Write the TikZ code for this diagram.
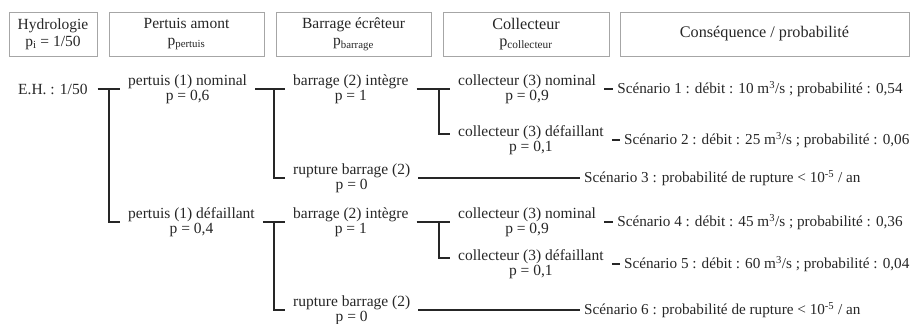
\documentclass[tikz,border=0pt]{standalone}
\usepackage{fontspec}
\setmainfont{Liberation Serif}
\usetikzlibrary{positioning,calc}
\usepackage{xcolor}
\definecolor{frame}{HTML}{A6A6A6}
\definecolor{ink}{HTML}{262626}
\newcommand{\treefont}{\fontsize{15.5}{12}\selectfont}
\newcommand{\scenfont}{\fontsize{15.2}{12}\selectfont}
\newcommand{\hdfont}{\fontsize{15.5}{17}\selectfont}
\newcommand{\bighdfont}{\fontsize{16.2}{17}\selectfont}
\tikzset{
  head/.style={draw=frame,line width=1pt,align=center,minimum height=44pt,inner sep=0pt,font=\hdfont,text=ink},
  branch/.style={align=center,anchor=west,inner xsep=8pt,inner ysep=0pt,font=\treefont,text=ink},
  scen/.style={anchor=west,inner xsep=4pt,inner ysep=0pt,font=\scenfont,text=ink},
  link/.style={draw=ink,line width=1.2pt}
}

\begin{document}
\begin{tikzpicture}[x=1pt,y=-1pt,node distance=11pt]
        \useasboundingbox (0,0) rectangle (911,324);
        \node[head,minimum width=88pt] (h1) at (53,34) {Hydrologie\\p\textsubscript{i} = 1/50};
        \node[head,minimum width=155pt,right=of h1] (h2) {Pertuis amont\\p\textsubscript{pertuis}};
        \node[head,minimum width=155pt,right=of h2] (h3) {Barrage écrêteur\\p\textsubscript{barrage}};
        \node[head,minimum width=166pt,right=of h3,font=\bighdfont] (h4) {Collecteur\\p\textsubscript{collecteur}};
        \node[head,minimum width=289pt,right=10pt of h4,font=\bighdfont] (h5) {Conséquence / probabilité};
        \node[branch,inner xsep=10pt] (eh) at (8,89) {E.H. : 1/50};
        \node[branch] (p1) at (120,89) {pertuis (1) nominal\\p = 0,6};
        \node[branch] (p2) at (120,222) {pertuis (1) défaillant\\p = 0,4};
        \node[branch] (b1) at (285,89) {barrage (2) intègre\\p = 1};
        \node[branch] (b2) at (285,178) {rupture barrage (2)\\p = 0};
        \node[branch] (b3) at (285,222) {barrage (2) intègre\\p = 1};
        \node[branch] (b4) at (285,310) {rupture barrage (2)\\p = 0};
        \node[branch] (c1) at (450,89) {collecteur (3) nominal\\p = 0,9};
        \node[branch] (c2) at (450,140) {collecteur (3) défaillant\\p = 0,1};
        \node[branch] (c3) at (450,222) {collecteur (3) nominal\\p = 0,9};
        \node[branch] (c4) at (450,264) {collecteur (3) défaillant\\p = 0,1};
        \node[scen,right=9pt of c1] (s1) {Scénario 1 : débit : 10 m\textsuperscript{3}/s ; probabilité : 0,54};
        \node[scen,right=8pt of c2] (s2) {Scénario 2 : débit : 25 m\textsuperscript{3}/s ; probabilité : 0,06};
        \node[scen] (s3) at (580,178) {Scénario 3 : probabilité de rupture < 10\textsuperscript{-5} / an};
        \node[scen,right=9pt of c3] (s4) {Scénario 4 : débit : 45 m\textsuperscript{3}/s ; probabilité : 0,36};
        \node[scen,right=8pt of c4] (s5) {Scénario 5 : débit : 60 m\textsuperscript{3}/s ; probabilité : 0,04};
        \node[scen] (s6) at (580,310) {Scénario 6 : probabilité de rupture < 10\textsuperscript{-5} / an};
        \draw[link] (eh.east) -- (p1.west);
        \draw[link] ([xshift=-11pt]p1.west) |- (p2.west);
        \draw[link] (p1.east) -- (b1.west);
        \draw[link] ([xshift=-11pt]b1.west) |- (b2.west);
        \draw[link] (p2.east) -- (b3.west);
        \draw[link] ([xshift=-11pt]b3.west) |- (b4.west);
        \draw[link] (b1.east) -- (c1.west);
        \draw[link] ([xshift=-11pt]c1.west) |- ([yshift=6pt]c2.west);
        \draw[link] (b3.east) -- (c3.west);
        \draw[link] ([xshift=-11pt]c3.west) |- ([yshift=6pt]c4.west);
        \draw[link] (b2.east) -- (s3.west);
        \draw[link] (b4.east) -- (s6.west);
        \draw[link] (c1.east) -- (s1.west);
        \draw[link] (c2.east) -- (s2.west);
        \draw[link] (c3.east) -- (s4.west);
        \draw[link] (c4.east) -- (s5.west);
      \end{tikzpicture}
\end{document}
